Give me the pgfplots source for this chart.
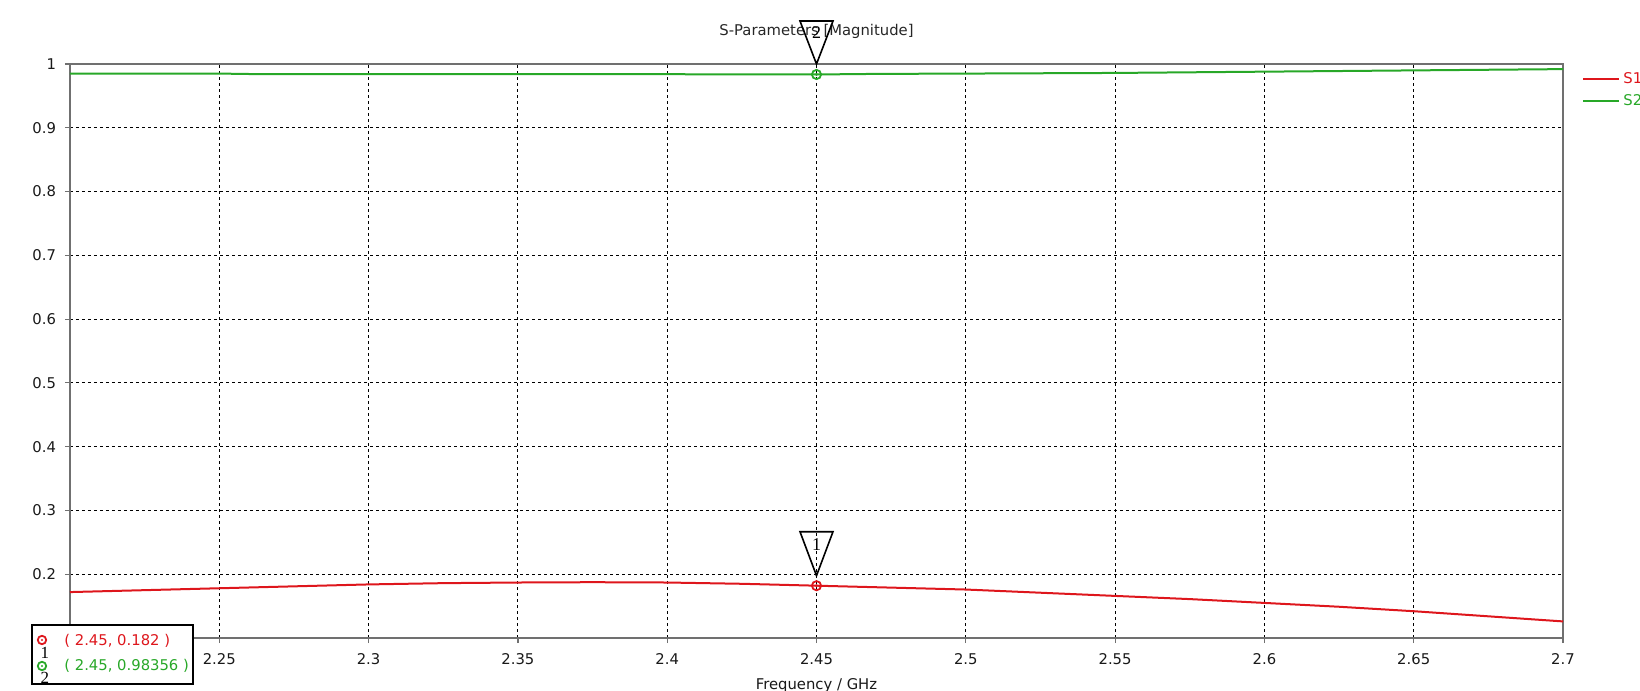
\documentclass[border=0pt]{standalone}
\usepackage{fontspec}
\setmainfont{DejaVu Sans}
\newfontfamily\mkserif{Liberation Serif}
\usepackage{pgfplots}
\pgfplotsset{compat=1.18}
\definecolor{sred}{RGB}{222,22,28}
\definecolor{sgreen}{RGB}{40,168,40}
\definecolor{axgray}{RGB}{112,112,112}
\begin{document}
\begin{tikzpicture}[font=\fontsize{7.4pt}{8.8pt}\selectfont]
\clip (-35pt,-26.5pt) rectangle (785pt,319pt);
\begin{axis}[
  at={(0pt,0pt)}, anchor=south west,
  scale only axis, width=746.5pt, height=287pt,
  xmin=2.2, xmax=2.7, ymin=0.1, ymax=1,
  xtick={2.25,2.3,2.35,2.4,2.45,2.5,2.55,2.6,2.65,2.7},
  ytick={0.2,0.3,0.4,0.5,0.6,0.7,0.8,0.9,1},
  /pgf/number format/assume math mode=true,
  tick align=outside, tick pos=left,
  major tick length=2.5pt,
  tick style={axgray, line width=0.6pt},
  axis line style={axgray, line width=1pt},
  grid=major,
  major grid style={black, line width=0.5pt, dash pattern=on 1.5pt off 1.5pt},
  xticklabel style={text=black!90, yshift=-1.5pt},
  yticklabel style={text=black!90, xshift=-1pt},
  title={S-Parameters [Magnitude]},
  title style={at={(axis description cs:0.5,1)}, anchor=center, yshift=10.5pt, text=black!85},
  xlabel={Frequency / GHz},
  xlabel style={at={(axis description cs:0.5,0)}, anchor=center, yshift=-24pt, text=black!90},
  clip=false,
  legend style={at={(axis description cs:1,1)}, anchor=north west, xshift=9.5pt, yshift=-2.5pt,
    draw=none, fill=none, inner sep=0pt, row sep=1pt,
    nodes={inner sep=1.5pt}},
  legend cell align=left,
  legend image code/.code={\draw[#1, line width=1pt] (0pt,0pt) -- (18pt,0pt);},
]
\addplot[sred, line width=1pt] coordinates {
(2.200,0.172) (2.225,0.175) (2.250,0.178) (2.275,0.181) (2.300,0.184)
(2.325,0.186) (2.350,0.187) (2.375,0.1875) (2.400,0.187) (2.425,0.185)
(2.450,0.182) (2.475,0.179) (2.500,0.176) (2.525,0.171) (2.550,0.166)
(2.575,0.161) (2.600,0.155) (2.625,0.149) (2.650,0.142) (2.675,0.134)
(2.700,0.126)};
\addlegendentry{\textcolor{sred}{S1,1}}
\addplot[sgreen, line width=1pt] coordinates {
(2.20,0.985) (2.25,0.985) (2.265,0.984) (2.30,0.984) (2.35,0.984) (2.40,0.984)
(2.45,0.9836) (2.47,0.9845) (2.50,0.985) (2.55,0.986) (2.60,0.988)
(2.65,0.990) (2.70,0.992)};
\addlegendentry{\textcolor{sgreen}{S2,1}}
% marker points
\addplot[sred, only marks, mark=o, mark size=2.3pt, mark options={line width=0.9pt}, forget plot] coordinates {(2.45,0.182)};
\addplot[sred, only marks, mark=*, mark size=0.5pt, forget plot] coordinates {(2.45,0.182)};
\addplot[sgreen, only marks, mark=o, mark size=2.3pt, mark options={line width=0.9pt}, forget plot] coordinates {(2.45,0.98356)};
\addplot[sgreen, only marks, mark=*, mark size=0.5pt, forget plot] coordinates {(2.45,0.98356)};
\coordinate (m1) at (axis cs:2.45,0.182);
\coordinate (m2) at (axis cs:2.45,1);
\coordinate (o) at (rel axis cs:0,0);
\end{axis}
% marker triangles (drawn in plain TikZ, anchored to the axis points)
\draw[black, line width=0.8pt] (m1) ++(0pt,5pt) -- ++(-8.25pt,22pt) -- ++(16.5pt,0pt) -- cycle;
\node[font=\mkserif\fontsize{9pt}{9pt}\selectfont, yshift=20.5pt] at (m1) {1};
\draw[black, line width=0.8pt] (m2) -- ++(-8.25pt,21.5pt) -- ++(16.5pt,0pt) -- cycle;
\node[font=\mkserif\fontsize{9pt}{9pt}\selectfont, yshift=15.5pt] at (m2) {2};
% marker info box
\draw[black, line width=1pt, fill=white] (o) ++(-19pt,6.5pt) rectangle ++(80.5pt,-29.5pt);
\node[anchor=west, text=sred, inner sep=0pt, xshift=-3pt, yshift=-1.5pt] at (o) {( 2.45, 0.182 )};
\node[anchor=west, text=sgreen, inner sep=0pt, xshift=-3pt, yshift=-14pt] at (o) {( 2.45, 0.98356 )};
\draw[sred, line width=0.9pt] (o) ++(-14pt,-1pt) circle (2.1pt);
\fill[sred] (o) ++(-14pt,-1pt) circle (0.55pt);
\draw[sgreen, line width=0.9pt] (o) ++(-14pt,-14pt) circle (2.1pt);
\fill[sgreen] (o) ++(-14pt,-14pt) circle (0.55pt);
\node[font=\mkserif\fontsize{8.5pt}{8.5pt}\selectfont, inner sep=0pt, xshift=-12.5pt, yshift=-7.5pt] at (o) {1};
\node[font=\mkserif\fontsize{8.5pt}{8.5pt}\selectfont, inner sep=0pt, xshift=-12.5pt, yshift=-20pt] at (o) {2};
\end{tikzpicture}
\end{document}
